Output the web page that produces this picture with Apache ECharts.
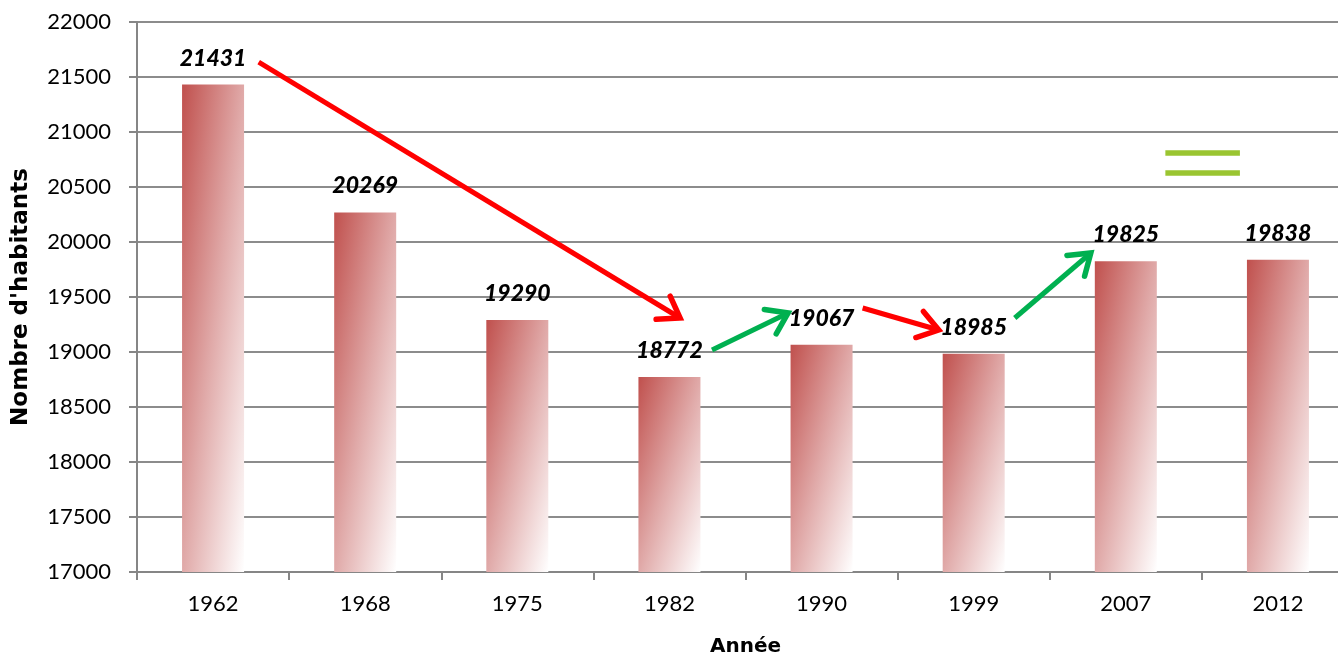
<!DOCTYPE html>
<html>
<head>
<meta charset="utf-8">
<script src="https://cdn.jsdelivr.net/npm/echarts@6/dist/echarts.min.js"></script>
<style>
    html, body { margin: 0; padding: 0; background: #fff; }
    #cn { width: 1338px; height: 656px; }
</style>
</head>
<body>
<div id="cn"></div>
<script>
'use strict';

// data
const arrYear = ['1962', '1968', '1975', '1982', '1990', '1999', '2007', '2012'];
const arrHabitants = [21431, 20269, 19290, 18772, 19067, 18985, 19825, 19838];

// arrows: [x1, y1, x2, y2] on a 0..8 position scale over the categories, y in habitants
const arrRedArrow = [
    [0.80, 21636, 3.57, 19309],
    [4.77, 19400, 5.27, 19200]
];
const arrGreenArrow = [
    [3.78, 19018, 4.28, 19355],
    [5.77, 19309, 6.27, 19900]
];
// "=" sign next to 2012
const arrEqual = [
    [6.76, 20809, 7.25, 20809],
    [6.76, 20627, 7.25, 20627]
];

const fontMain = 'Lato, "Open Sans", sans-serif';
const fontName = '"DejaVu Sans", sans-serif';

const yMin = 17000;
const yMax = 22000;
const plotH = 550;
const barW = 62;

const echartsBar = echarts.init(cn);

// diagonal fade like the office "linear diagonal" fill: corner to corner in the bar's own box
const barColor = (params) => {
    const h = Math.max(1, (params.value - yMin) / (yMax - yMin) * plotH);
    const s = 1 / (1 / (barW * barW) + 1 / (h * h));
    return new echarts.graphic.LinearGradient(0, 0, 2 * s / (barW * barW), 2 * s / (h * h), [
        { offset: 0, color: '#c0504d' },
        { offset: 0.5, color: '#e0a9a8' },
        { offset: 1, color: '#ffffff' }
    ]);
};

// draw a line with an open V head at its end
const renderArrow = (color, withHead) => (params, api) => {
    const p1 = api.coord([api.value(0), api.value(1)]);
    const p2 = api.coord([api.value(2), api.value(3)]);
    const children = [{
        type: 'line',
        shape: { x1: p1[0], y1: p1[1], x2: p2[0], y2: p2[1] },
        style: { stroke: color, lineWidth: withHead ? 5 : 5.5, lineCap: 'butt' }
    }];
    if (withHead) {
        const ang = Math.atan2(p2[1] - p1[1], p2[0] - p1[0]);
        const len = 24;
        const spread = 0.6;
        const a1 = ang + Math.PI - spread;
        const a2 = ang + Math.PI + spread;
        children.push({
            type: 'polyline',
            shape: {
                points: [
                    [p2[0] + len * Math.cos(a1), p2[1] + len * Math.sin(a1)],
                    [p2[0], p2[1]],
                    [p2[0] + len * Math.cos(a2), p2[1] + len * Math.sin(a2)]
                ]
            },
            style: { stroke: color, fill: null, lineWidth: 5.5, lineJoin: 'miter', lineCap: 'round' }
        });
    }
    return { type: 'group', children: children };
};

const optionBar = {
    animation: false,
    grid: {
        left: 137,
        top: 22,
        width: 1217,
        height: plotH,
        outerBoundsMode: 'none',
        containLabel: false
    },
    xAxis: [{
        type: 'category',
        data: arrYear,
        name: 'Année',
        nameLocation: 'middle',
        nameGap: 65,
        nameTextStyle: { fontFamily: fontName, fontWeight: 'bold', fontSize: 20, color: '#000' },
        axisLine: { lineStyle: { color: '#868686', width: 2 } },
        axisTick: { show: true, length: 8, lineStyle: { color: '#868686', width: 2 } },
        axisLabel: { fontFamily: fontMain, fontSize: 22, color: '#000', margin: 21 }
    }, {
        type: 'value',
        min: 0,
        max: 8,
        show: false
    }],
    yAxis: [{
        type: 'value',
        min: yMin,
        max: yMax,
        interval: 500,
        name: "Nombre d'habitants",
        nameLocation: 'middle',
        nameGap: 104,
        nameTextStyle: { fontFamily: fontName, fontWeight: 'bold', fontSize: 23, color: '#000' },
        axisLine: { show: true, lineStyle: { color: '#868686', width: 2 } },
        axisTick: { show: true, length: 8, lineStyle: { color: '#868686', width: 2 } },
        axisLabel: {
            fontFamily: fontMain,
            fontSize: 22,
            color: '#000',
            margin: 26,
            formatter: (v) => String(v)
        },
        splitLine: { lineStyle: { color: '#8c8c8c', width: 2 } }
    }],
    series: [{
        name: 'habitants',
        type: 'bar',
        data: arrHabitants,
        barWidth: barW,
        itemStyle: { color: barColor },
        label: {
            show: true,
            position: 'top',
            distance: 15,
            fontFamily: fontMain,
            fontWeight: 900,
            fontStyle: 'italic',
            fontSize: 23,
            color: '#000'
        }
    }, {
        type: 'custom',
        xAxisIndex: 1,
        data: arrRedArrow,
        renderItem: renderArrow('#ff0000', true),
        silent: true,
        z: 5
    }, {
        type: 'custom',
        xAxisIndex: 1,
        data: arrGreenArrow,
        renderItem: renderArrow('#00b050', true),
        silent: true,
        z: 5
    }, {
        type: 'custom',
        xAxisIndex: 1,
        data: arrEqual,
        renderItem: renderArrow('#9ac531', false),
        silent: true,
        z: 5
    }]
};

echartsBar.setOption(optionBar);
</script>
</body>
</html>
